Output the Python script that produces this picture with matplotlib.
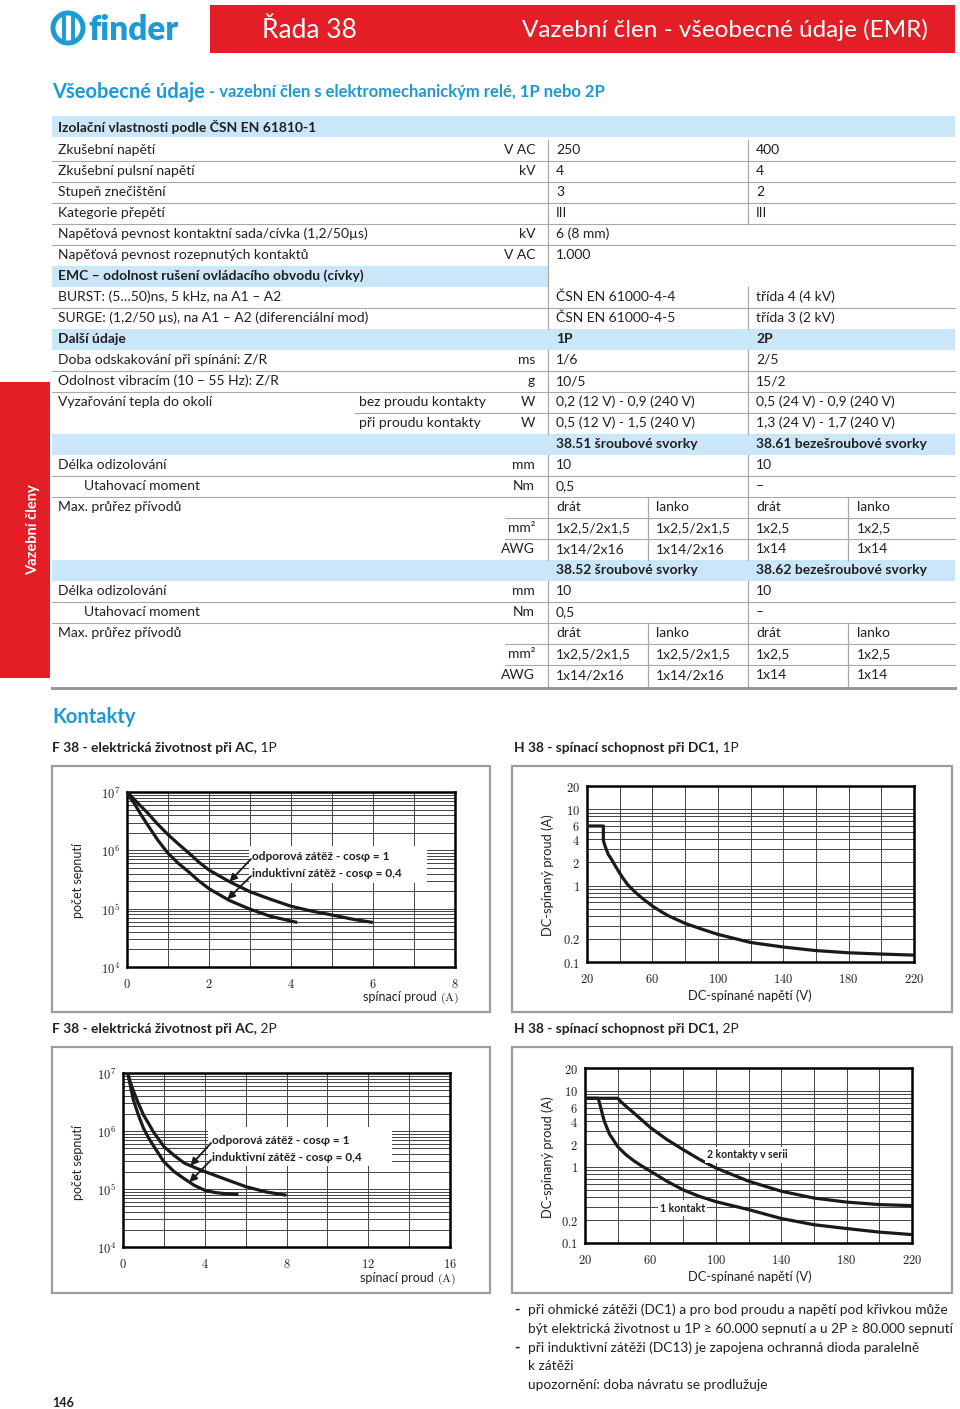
import matplotlib
matplotlib.use('Agg')
import matplotlib.pyplot as plt
from matplotlib.patches import Rectangle, Circle
from matplotlib.ticker import FixedLocator, FuncFormatter, NullFormatter
import numpy as np

plt.rcParams['mathtext.fontset'] = 'cm'
FONT = ['Lato', 'DejaVu Sans']
plt.rcParams['font.family'] = FONT

# ---------------- data ----------------
row_label = ['Zkušební napětí', 'Zkušební pulsní napětí', 'Stupeň znečištění', 'Kategorie přepětí',
             'Napěťová pevnost kontaktní sada/cívka (1,2/50µs)', 'Napěťová pevnost rozepnutých kontaktů',
             'EMC – odolnost rušení ovládacího obvodu (cívky)', 'BURST: (5…50)ns, 5 kHz, na A1 – A2',
             'SURGE: (1,2/50 µs), na A1 – A2 (diferenciální mod)', 'Další údaje',
             'Doba odskakování při spínání: Z/R', 'Odolnost vibracím (10 – 55 Hz): Z/R',
             'Vyzařování tepla do okolí', '', '', 'Délka odizolování', 'Utahovací moment',
             'Max. průřez přívodů', '', '', '', 'Délka odizolování', 'Utahovací moment',
             'Max. průřez přívodů', '', '']
row_sub = {12: 'bez proudu kontakty', 13: 'při proudu kontakty'}
row_unit = ['V AC', 'kV', '', '', 'kV', 'V AC', '', '', '', '', 'ms', 'g', 'W', 'W', '', 'mm', 'Nm', '',
            'mm²', 'AWG', '', 'mm', 'Nm', '', 'mm²', 'AWG']
row_v1 = ['250', '4', '3', 'III', '6 (8 mm)', '1.000', '', 'ČSN EN 61000-4-4', 'ČSN EN 61000-4-5', '1P',
          '1/6', '10/5', '0,2 (12 V) - 0,9 (240 V)', '0,5 (12 V) - 1,5 (240 V)', '38.51 šroubové svorky',
          '10', '0,5', 'drát', '1x2,5/2x1,5', '1x14/2x16', '38.52 šroubové svorky', '10', '0,5', 'drát',
          '1x2,5/2x1,5', '1x14/2x16']
row_v1b = [''] * 17 + ['lanko', '1x2,5/2x1,5', '1x14/2x16'] + [''] * 3 + ['lanko', '1x2,5/2x1,5', '1x14/2x16']
row_v2 = ['400', '4', '2', 'III', '', '', '', 'třída 4 (4 kV)', 'třída 3 (2 kV)', '2P', '2/5', '15/2',
          '0,5 (24 V) - 0,9 (240 V)', '1,3 (24 V) - 1,7 (240 V)', '38.61 bezešroubové svorky', '10', '–',
          'drát', '1x2,5', '1x14', '38.62 bezešroubové svorky', '10', '–', 'drát', '1x2,5', '1x14']
row_v2b = [''] * 17 + ['lanko', '1x2,5', '1x14'] + [''] * 3 + ['lanko', '1x2,5', '1x14']
header_rows = {6: 'left', 9: 'full', 14: 'full', 20: 'full'}

# F 38 AC 1P : switching current (A) vs number of operations
f1_res_x = [0, 0.1, 0.25, 0.5, 0.75, 1, 1.25, 1.5, 1.75, 2, 2.5, 3, 3.5, 4, 4.5, 5, 5.5, 6]
f1_res_y = [1e7, 8.5e6, 6.6e6, 4.4e6, 2.8e6, 1.86e6, 1.29e6, 9.1e5, 6.3e5, 4.6e5, 2.9e5, 1.95e5, 1.45e5,
            1.1e5, 9.1e4, 7.8e4, 6.6e4, 5.8e4]
f1_ind_x = [0, 0.1, 0.2, 0.35, 0.5, 0.75, 1, 1.25, 1.5, 1.75, 2, 2.5, 3, 3.5, 4.15]
f1_ind_y = [1e7, 7.6e6, 6.0e6, 4.0e6, 2.75e6, 1.5e6, 8.9e5, 6.0e5, 4.3e5, 3.0e5, 2.2e5, 1.38e5, 9.8e4, 7.4e4, 5.8e4]
# F 38 AC 2P
f2_res_x = [0.23, 0.35, 0.5, 0.75, 1, 1.25, 1.5, 2, 2.5, 3, 3.5, 4, 5, 6, 7, 8]
f2_res_y = [1e7, 7.1e6, 5.0e6, 3.0e6, 1.9e6, 1.35e6, 9.5e5, 5.4e5, 3.8e5, 2.8e5, 2.35e5, 2.0e5, 1.48e5,
            1.1e5, 8.9e4, 7.8e4]
f2_ind_x = [0.23, 0.35, 0.5, 0.75, 1, 1.25, 1.5, 2, 2.5, 3, 3.5, 4, 4.5, 5, 5.65]
f2_ind_y = [1e7, 6.3e6, 3.5e6, 1.9e6, 1.12e6, 7.6e5, 5.5e5, 2.95e5, 2.0e5, 1.5e5, 1.15e5, 9.5e4, 8.7e4, 8.3e4, 8e4]
# H 38 DC1 1P : voltage (V) vs current (A)
h1_x = [20, 30, 30, 31, 32, 33, 35, 37, 40, 42, 45, 50, 55, 60, 65, 70, 80, 90, 100, 120, 140, 160, 180, 200, 220]
h1_y = [6, 6, 3.9, 3.3, 2.9, 2.55, 2.2, 1.85, 1.45, 1.25, 1.02, 0.8, 0.65, 0.54, 0.46, 0.4, 0.32, 0.27, 0.23,
        0.18, 0.157, 0.141, 0.132, 0.127, 0.123]
# H 38 DC1 2P
h2_two_x = [20, 40, 42, 45, 50, 55, 60, 65, 70, 80, 90, 100, 120, 140, 160, 180, 200, 220]
h2_two_y = [8, 8, 7.2, 6.3, 5.1, 4.1, 3.3, 2.75, 2.3, 1.69, 1.26, 0.97, 0.65, 0.48, 0.39, 0.345, 0.32, 0.31]
h2_one_x = [20, 28, 29, 30, 31, 32, 35, 40, 45, 50, 55, 60, 70, 80, 90, 100, 120, 140, 160, 180, 200, 220]
h2_one_y = [8, 8, 6.8, 5.6, 4.6, 3.9, 2.7, 1.85, 1.45, 1.2, 1.02, 0.88, 0.65, 0.5, 0.41, 0.35, 0.275, 0.21,
            0.174, 0.155, 0.139, 0.129]

h_yticks = [0.1, 0.2, 1, 2, 4, 6, 10, 20]
h_xticks = [20, 60, 100, 140, 180, 220]

notes = ['při ohmické zátěži (DC1) a pro bod proudu a napětí pod křivkou může',
         'být elektrická životnost u 1P ≥ 60.000 sepnutí a u 2P ≥ 80.000 sepnutí',
         'při induktivní zátěži (DC13) je zapojena ochranná dioda paralelně',
         'k zátěži',
         'upozornění: doba návratu se prodlužuje']
note_bullet = [True, False, True, False, False]

# ---------------- style ----------------
W, H = 960, 1409
BLUE = '#1b9ad6'
RED = '#e41e26'
LBLUE = '#c9e7f8'
INK = '#231f20'
GRAY = '#a8a8a8'

fig = plt.figure(figsize=(W / 100, H / 100), dpi=100)
bg = fig.add_axes([0, 0, 1, 1])
bg.set_xlim(0, W)
bg.set_ylim(H, 0)
bg.axis('off')
PX = bg.transData

# header
bg.add_patch(Rectangle((210, 5), 745, 48, color=RED, lw=0))
bg.text(262, 30, 'Řada 38', color='white', fontsize=19, va='center', ha='left')
bg.text(928, 30, 'Vazební člen - všeobecné údaje (EMR)', color='white', fontsize=17.5, va='center', ha='right')
bg.add_patch(Circle((68, 28), 15, fill=False, ec=BLUE, lw=3.6))
bg.plot([63.5, 63.5], [18, 38], color=BLUE, lw=2.8)
bg.plot([72.5, 72.5], [18, 38], color=BLUE, lw=2.8)
bg.text(88, 30, 'finder', color=BLUE, fontsize=24, fontweight='heavy', va='center', ha='left')

# subtitle
t = bg.text(52, 92, 'Všeobecné údaje', color=BLUE, fontsize=14.5, fontweight='bold', va='center')
bg.annotate(' - vazební člen s elektromechanickým relé, 1P nebo 2P', xycoords=t, xy=(1, 0.5),
            va='center', ha='left', color=BLUE, fontsize=12, fontweight='bold')

# side tab
bg.add_patch(Rectangle((0, 382), 50, 296, color=RED, lw=0))
bg.text(33, 530, 'Vazební členy', color='white', fontsize=10.5, fontweight='bold', rotation=90,
        va='center', ha='center')

# table
FS = 10
bg.add_patch(Rectangle((52, 116), 903, 21, color=LBLUE, lw=0, zorder=1))
bg.text(58, 126.5, 'Izolační vlastnosti podle ČSN EN 61810-1', fontsize=FS, fontweight='bold', color=INK,
        va='center', zorder=3)
HALF = 10.5
for i in range(len(row_label)):
    yc = 150 + 21 * i
    kind = header_rows.get(i)
    bold = 'bold' if kind else 'normal'
    if kind == 'full':
        bg.add_patch(Rectangle((52, yc - HALF), 903, 2 * HALF, color=LBLUE, lw=0, zorder=1))
    elif kind == 'left':
        bg.add_patch(Rectangle((52, yc - HALF), 496, 2 * HALF, color=LBLUE, lw=0, zorder=1))
    if kind != 'full':
        bg.plot([548, 548], [yc - HALF, yc + HALF], color=GRAY, lw=0.9, zorder=2)
    if not kind and row_v2[i] and i not in (4, 5):
        bg.plot([748, 748], [yc - HALF, yc + HALF], color=GRAY, lw=0.9, zorder=2)
    if row_v1b[i] or row_v2b[i]:
        bg.plot([648, 648], [yc - HALF, yc + HALF], color=GRAY, lw=0.9, zorder=2)
        bg.plot([848, 848], [yc - HALF, yc + HALF], color=GRAY, lw=0.9, zorder=2)
    if i < len(row_label) - 1 and not kind and header_rows.get(i + 1) is None:
        x0 = 52
        if i == 12:
            x0 = 355
        elif i in (17, 18, 23, 24):
            x0 = 505
        bg.plot([x0, 955], [yc + HALF, yc + HALF], color=GRAY, lw=0.8, zorder=2)
    lx = 84 if i in (16, 22) else 58
    bg.text(lx, yc, row_label[i], fontsize=FS, fontweight=bold, color=INK, va='center', zorder=3)
    if i in row_sub:
        bg.text(359, yc, row_sub[i], fontsize=FS, color=INK, va='center', zorder=3)
    bg.text(535, yc, row_unit[i], fontsize=FS, color=INK, va='center', ha='right', zorder=3)
    bg.text(556, yc, row_v1[i], fontsize=FS, fontweight=bold, color=INK, va='center', zorder=3)
    bg.text(656, yc, row_v1b[i], fontsize=FS, color=INK, va='center', zorder=3)
    bg.text(756, yc, row_v2[i], fontsize=FS, fontweight=bold, color=INK, va='center', zorder=3)
    bg.text(857, yc, row_v2b[i], fontsize=FS, color=INK, va='center', zorder=3)
bg.plot([52, 955], [688, 688], color='#999999', lw=2.2)

# section titles
bg.text(52, 717, 'Kontakty', color=BLUE, fontsize=14.5, fontweight='bold', va='center')
for (x, y, s) in [(52, 748, 'F 38 - elektrická životnost při AC,'), (514, 748, 'H 38 - spínací schopnost při DC1,'),
                  (52, 1029, 'F 38 - elektrická životnost při AC,'), (514, 1029, 'H 38 - spínací schopnost při DC1,')]:
    tt = bg.text(x, y, s, color=INK, fontsize=9.9, fontweight='bold', va='center')
    suffix = ' 1P' if y < 1000 else ' 2P'
    bg.annotate(suffix, xycoords=tt, xy=(1, 0.5), va='center', ha='left', color=INK, fontsize=9.9)

# chart frames
for (x0, y0, x1, y1) in [(52, 766, 490, 1012), (512, 766, 952, 1012), (52, 1047, 490, 1293), (512, 1047, 952, 1293)]:
    bg.add_patch(Rectangle((x0, y0), x1 - x0, y1 - y0, fill=False, ec='#9c9c9c', lw=1.6))


def chart_ax(x0, y0, x1, y1):
    return fig.add_axes([x0 / W, 1 - y1 / H, (x1 - x0) / W, (y1 - y0) / H])


def style(ax):
    ax.set_axisbelow(True)
    ax.grid(True, which='both', color='#444444', lw=0.7)
    for s in ax.spines.values():
        s.set_linewidth(1.8)
        s.set_color('black')
    ax.tick_params(which='both', length=0, labelsize=9, colors=INK)
    ax.tick_params(axis='x', pad=7)
    ax.tick_params(axis='y', pad=5)


num_fmt = FuncFormatter(lambda v, p: r'$%g$' % v)
pow_fmt = FuncFormatter(lambda v, p: r'$10^{%d}$' % round(np.log10(v)))
LINE = dict(color='#1a1a1a', lw=2.3, zorder=3, solid_joinstyle='round', solid_capstyle='butt')


def f_chart(box, xmax, xstep_major, xstep_grid, res_x, res_y, ind_x, ind_y, wbox, tx, ty, tip_res, tip_ind, ylab_y, xlab_xy):
    ax = chart_ax(*box)
    ax.set_yscale('log')
    ax.set_xlim(0, xmax)
    ax.set_ylim(1e4, 1e7)
    ax.xaxis.set_major_locator(FixedLocator(np.arange(0, xmax + 0.1, xstep_major)))
    ax.xaxis.set_minor_locator(FixedLocator(np.arange(0, xmax + 0.1, xstep_grid)))
    ax.xaxis.set_major_formatter(num_fmt)
    ax.yaxis.set_major_locator(FixedLocator([1e4, 1e5, 1e6, 1e7]))
    ax.yaxis.set_minor_locator(FixedLocator([m * 10 ** e for e in (4, 5, 6) for m in range(2, 10)]))
    ax.yaxis.set_major_formatter(pow_fmt)
    ax.yaxis.set_minor_formatter(NullFormatter())
    style(ax)
    ax.plot(res_x, res_y, **LINE)
    ax.plot(ind_x, ind_y, **LINE)
    ax.add_patch(Rectangle((wbox[0], wbox[1]), wbox[2], wbox[3], transform=PX, color='white', lw=0, zorder=1.5, clip_on=False))
    ax.text(tx, ty, 'odporová zátěž - cosφ = 1', transform=PX, fontsize=8.6, fontweight='bold', color=INK, va='center', zorder=4)
    ax.text(tx, ty + 16.5, 'induktivní zátěž - cosφ = 0,4', transform=PX, fontsize=8.6, fontweight='bold', color=INK, va='center', zorder=4)
    yr = 10 ** np.interp(tip_res, res_x, np.log10(res_y))
    yi = 10 ** np.interp(tip_ind, ind_x, np.log10(ind_y))
    ap = dict(arrowstyle='-|>', color='#1a1a1a', lw=1.3, mutation_scale=11, shrinkA=0, shrinkB=0)
    ax.annotate('', xy=(tip_res, yr), xycoords='data', xytext=(tx - 1, ty + 2), textcoords=PX, arrowprops=ap, zorder=4)
    ax.annotate('', xy=(tip_ind, yi), xycoords='data', xytext=(tx - 1, ty + 19), textcoords=PX, arrowprops=ap, zorder=4)
    bg.text(78, ylab_y, 'počet sepnutí', rotation=90, fontsize=9, color=INK, va='center', ha='center')
    bg.text(xlab_xy[0], xlab_xy[1], 'spínací proud ', fontsize=9, color=INK, va='center', ha='right')
    bg.text(xlab_xy[0], xlab_xy[1] + 1, r'$(\mathrm{A})$', fontsize=8.5, color=INK, va='center', ha='left')
    return ax


f_chart((127, 792, 455, 967), 8, 2, 1, f1_res_x, f1_res_y, f1_ind_x, f1_ind_y,
        (249, 846, 178, 37), 252, 857, 2.5, 2.45, 880, (440, 997))
f_chart((123, 1073, 450, 1247), 16, 4, 2, f2_res_x, f2_res_y, f2_ind_x, f2_ind_y,
        (208, 1127, 184, 39), 212, 1141, 3.3, 3.25, 1162, (437, 1278))


def h_chart(box, ylab_y, xlab_y):
    ax = chart_ax(*box)
    ax.set_yscale('log')
    ax.set_xlim(20, 220)
    ax.set_ylim(0.1, 20)
    ax.xaxis.set_major_locator(FixedLocator(h_xticks))
    ax.xaxis.set_minor_locator(FixedLocator(np.arange(20, 221, 20)))
    ax.xaxis.set_major_formatter(num_fmt)
    ax.yaxis.set_major_locator(FixedLocator(h_yticks))
    ax.yaxis.set_minor_locator(FixedLocator([m * 10.0 ** e for e in (-1, 0, 1) for m in range(1, 10) if m * 10.0 ** e <= 20]))
    ax.yaxis.set_major_formatter(num_fmt)
    ax.yaxis.set_minor_formatter(NullFormatter())
    style(ax)
    bg.text(548, ylab_y, 'DC-spínaný proud (A)', rotation=90, fontsize=9.3, color=INK, va='center', ha='center')
    bg.text(750, xlab_y, 'DC-spínané napětí (V)', fontsize=9.3, color=INK, va='center', ha='center')
    return ax


ax = h_chart((587, 786, 914, 962), 875, 996)
ax.plot(h1_x, h1_y, **LINE)

ax = h_chart((585, 1068, 912, 1243), 1157, 1277)
ax.plot(h2_two_x, h2_two_y, **LINE)
ax.plot(h2_one_x, h2_one_y, **LINE)
ax.text(707, 1155, '2 kontakty v serii', transform=PX, fontsize=7.6, fontweight='bold', color=INK, va='center',
        zorder=4, bbox=dict(fc='white', ec='none', pad=1.5))
ax.text(660, 1208, '1 kontakt', transform=PX, fontsize=7.6, fontweight='bold', color=INK, va='center',
        zorder=4, bbox=dict(fc='white', ec='none', pad=1.5))

# notes
for k, (s, b) in enumerate(zip(notes, note_bullet)):
    y = 1310 + 18.8 * k
    if b:
        bg.text(514, y, '-', fontsize=10.5, fontweight='bold', color=INK, va='center')
    bg.text(528, y, s, fontsize=9.95, color=INK, va='center')

bg.text(52, 1403, '146', fontsize=9, fontweight='bold', color=INK, va='center')

fig.savefig('out.png', dpi=100)
